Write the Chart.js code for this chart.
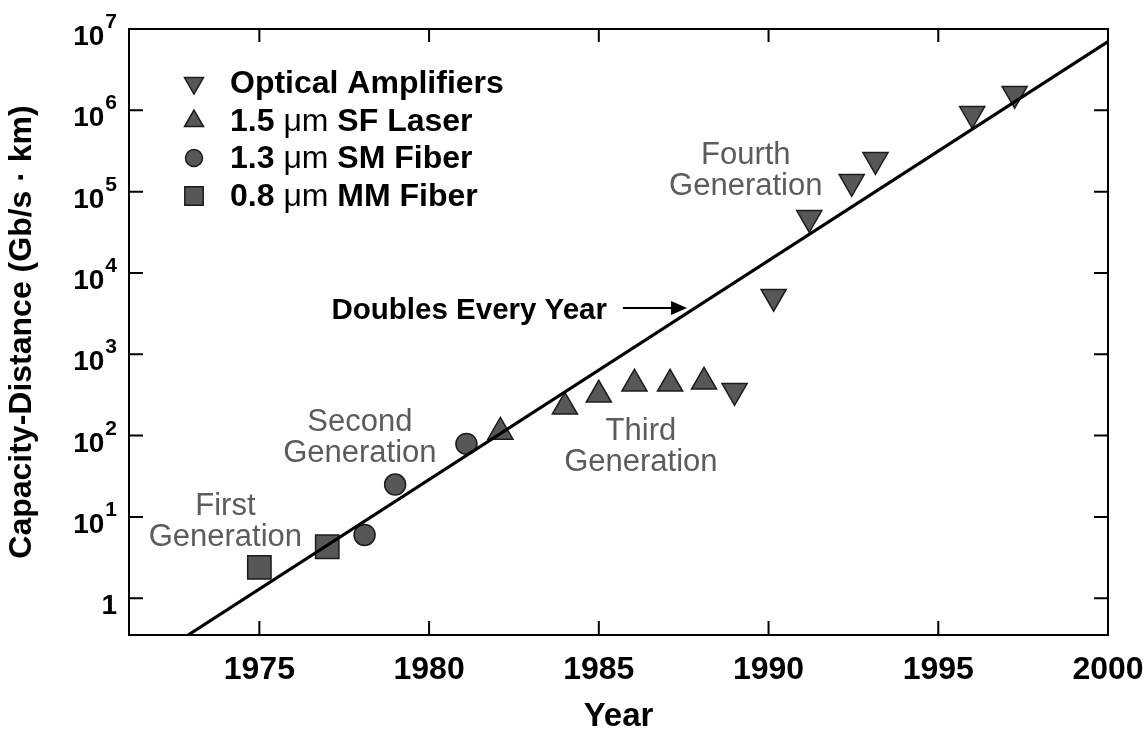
<!DOCTYPE html>
<html>
<head>
<meta charset="utf-8">
<script src="https://cdn.jsdelivr.net/npm/chart.js@4.4.1/dist/chart.umd.min.js"></script>
<style>
  html, body { margin: 0; padding: 0; background: #fff; }
  #wrap { width: 1148px; height: 733px; }
</style>
</head>
<body>
<div id="wrap"><canvas id="capacityChart" width="1148" height="733"></canvas></div>
<script>
// capacity-distance product (Gb/s·km) by year
const mmFiberYears = [1975, 1977];
const mmFiberValues = [2.4, 4.3];
const smFiberYears = [1978.1, 1979, 1981.1];
const smFiberValues = [6, 25, 79];
const sfLaserYears = [1982.1, 1984, 1985, 1986.05, 1987.1, 1988.1];
const sfLaserValues = [111, 226, 317, 433, 433, 458];
const ampYears = [1989, 1990.15, 1991.2, 1992.45, 1993.15, 1996, 1997.25];
const ampValues = [355, 5100, 47700, 132000, 246000, 907000, 1600000];
// "doubles every year" line, end points
const trendYears = [1972.9, 2000];
const trendValues = [0.353, 7.0e6];

const xTicks = [1975, 1980, 1985, 1990, 1995, 2000];
const yTicks = [1, 10, 100, 1e3, 1e4, 1e5, 1e6, 1e7];
const yTickBase = ['1', '10', '10', '10', '10', '10', '10', '10'];
const yTickExp = ['', '1', '2', '3', '4', '5', '6', '7'];

const legendLabels = [
  ['Optical Amplifiers'],
  ['1.5 ', 'μm', ' SF Laser'],
  ['1.3 ', 'μm', ' SM Fiber'],
  ['0.8 ', 'μm', ' MM Fiber']
];

const FONT = "'Liberation Sans', Arial, Helvetica, sans-serif";
const markFill = '#575757';
const markEdge = '#1c1c1c';

const toXY = (xs, ys) => xs.map((v, i) => ({ x: v, y: ys[i] }));

const notes = [
  { lines: ['First', 'Generation'], year: 1974.0, value: 13.6 },
  { lines: ['Second', 'Generation'], year: 1977.96, value: 144 },
  { lines: ['Third', 'Generation'], year: 1986.24, value: 114 },
  { lines: ['Fourth', 'Generation'], year: 1989.33, value: 275000 }
];

const extras = {
  id: 'extras',
  beforeDatasetsDraw(chart) {
    const { ctx, chartArea: a, scales: { x, y } } = chart;
    ctx.save();
    ctx.strokeStyle = '#000';
    ctx.lineWidth = 2;
    ctx.strokeRect(a.left, a.top, a.right - a.left, a.bottom - a.top);
    ctx.beginPath();
    x.ticks.forEach(t => {
      const px = x.getPixelForValue(t.value);
      if (px > a.right - 2) return;
      ctx.moveTo(px, a.bottom); ctx.lineTo(px, a.bottom - 14);
      ctx.moveTo(px, a.top); ctx.lineTo(px, a.top + 13);
    });
    y.ticks.forEach(t => {
      const py = y.getPixelForValue(t.value);
      if (py < a.top + 2) return;
      ctx.moveTo(a.left, py); ctx.lineTo(a.left + 14, py);
      ctx.moveTo(a.right, py); ctx.lineTo(a.right - 14, py);
    });
    ctx.stroke();

    // y tick labels with superscript exponents
    ctx.fillStyle = '#000';
    ctx.textAlign = 'right';
    ctx.textBaseline = 'alphabetic';
    const edge = a.left - 12;
    yTicks.forEach((v, i) => {
      const py = y.getPixelForValue(v);
      let right = edge;
      if (yTickExp[i]) {
        ctx.font = 'bold 21px ' + FONT;
        ctx.fillText(yTickExp[i], right, py - 1);
        right -= ctx.measureText(yTickExp[i]).width + 1;
      }
      ctx.font = 'bold 28px ' + FONT;
      ctx.fillText(yTickBase[i], right, py + 16);
    });

    // generation notes
    ctx.fillStyle = '#5c5c5c';
    ctx.textAlign = 'center';
    ctx.textBaseline = 'middle';
    ctx.font = '31px ' + FONT;
    notes.forEach(n => {
      const px = x.getPixelForValue(n.year);
      const py = y.getPixelForValue(n.value);
      n.lines.forEach((s, k) => ctx.fillText(s, px, py + k * 31));
    });

    // "Doubles Every Year" with arrow
    ctx.fillStyle = '#000';
    ctx.textAlign = 'right';
    ctx.font = 'bold 29.5px ' + FONT;
    ctx.fillText('Doubles Every Year', x.getPixelForValue(1985.24), y.getPixelForValue(3400));
    const ay = y.getPixelForValue(3700);
    const ax0 = x.getPixelForValue(1985.71);
    const ax1 = x.getPixelForValue(1987.6);
    ctx.lineWidth = 2;
    ctx.beginPath(); ctx.moveTo(ax0, ay); ctx.lineTo(ax1 - 12, ay); ctx.stroke();
    ctx.beginPath();
    ctx.moveTo(ax1, ay); ctx.lineTo(ax1 - 16, ay - 7); ctx.lineTo(ax1 - 16, ay + 7);
    ctx.closePath(); ctx.fill();

    // legend
    const sets = chart.data.datasets.slice(1);
    const rowY = [83, 121, 158, 196];
    const sizes = [11, 11, 8.5, 13];
    sets.forEach((ds, i) => {
      const cy = a.top + rowY[i] - 29;
      ctx.fillStyle = markFill;
      ctx.strokeStyle = markEdge;
      ctx.lineWidth = 1.5;
      Chart.helpers.drawPoint(ctx, {
        pointStyle: ds.pointStyle, rotation: ds.pointRotation || 0,
        radius: sizes[i], borderWidth: 1.5
      }, a.left + 65, cy);
      let tx = a.left + 101;
      ctx.fillStyle = '#000';
      ctx.textAlign = 'left';
      legendLabels[i].forEach(part => {
        ctx.font = (part === 'μm' ? '' : 'bold ') + '32px ' + FONT;
        ctx.fillText(part, tx, cy + 1);
        tx += ctx.measureText(part).width;
      });
    });
    ctx.restore();
  }
};

new Chart(document.getElementById('capacityChart'), {
  type: 'scatter',
  data: {
    datasets: [
      {
        label: 'Doubles Every Year',
        data: toXY(trendYears, trendValues),
        showLine: true,
        borderColor: '#000',
        borderWidth: 3.2,
        pointRadius: 0,
        fill: false
      },
      {
        label: 'Optical Amplifiers',
        data: toXY(ampYears, ampValues),
        pointStyle: 'triangle',
        pointRotation: 180,
        pointRadius: 14.5,
        backgroundColor: markFill,
        borderColor: markEdge,
        borderWidth: 1.5
      },
      {
        label: '1.5 μm SF Laser',
        data: toXY(sfLaserYears, sfLaserValues),
        pointStyle: 'triangle',
        pointRadius: 14.5,
        backgroundColor: markFill,
        borderColor: markEdge,
        borderWidth: 1.5
      },
      {
        label: '1.3 μm SM Fiber',
        data: toXY(smFiberYears, smFiberValues),
        pointStyle: 'circle',
        pointRadius: 10.5,
        backgroundColor: markFill,
        borderColor: markEdge,
        borderWidth: 1.5
      },
      {
        label: '0.8 μm MM Fiber',
        data: toXY(mmFiberYears, mmFiberValues),
        pointStyle: 'rect',
        pointRadius: 16.5,
        backgroundColor: markFill,
        borderColor: markEdge,
        borderWidth: 1.5
      }
    ]
  },
  options: {
    responsive: false,
    animation: false,
    layout: { padding: { top: 29, right: 40, left: 0, bottom: 0 } },
    plugins: {
      legend: { display: false },
      tooltip: { enabled: false }
    },
    scales: {
      x: {
        type: 'linear',
        min: 1971.16,
        max: 2000,
        afterBuildTicks: s => { s.ticks = xTicks.map(v => ({ value: v })); },
        afterFit: s => { s.height = 98; s.paddingLeft = 0; s.paddingRight = 0; },
        grid: { display: false, drawTicks: false },
        border: { display: false },
        ticks: {
          color: '#000',
          font: { family: FONT, size: 32, weight: 'bold' },
          padding: 15.5,
          maxRotation: 0,
          autoSkip: false,
          callback: v => String(v)
        },
        title: {
          display: true,
          text: 'Year',
          color: '#000',
          font: { family: FONT, size: 33, weight: 'bold', lineHeight: 1 },
          padding: { top: 0, bottom: 0 }
        }
      },
      y: {
        type: 'logarithmic',
        min: 0.353,
        max: 1e7,
        afterBuildTicks: s => { s.ticks = yTicks.map(v => ({ value: v })); },
        afterFit: s => { s.width = 129; s.paddingTop = 0; s.paddingBottom = 0; },
        grid: { display: false, drawTicks: false },
        border: { display: false },
        ticks: { display: false },
        title: {
          display: true,
          text: 'Capacity-Distance (Gb/s · km)',
          color: '#000',
          font: { family: FONT, size: 32, weight: 'bold' },
          padding: { top: 3, bottom: 0 }
        }
      }
    }
  },
  plugins: [extras]
});
</script>
</body>
</html>
